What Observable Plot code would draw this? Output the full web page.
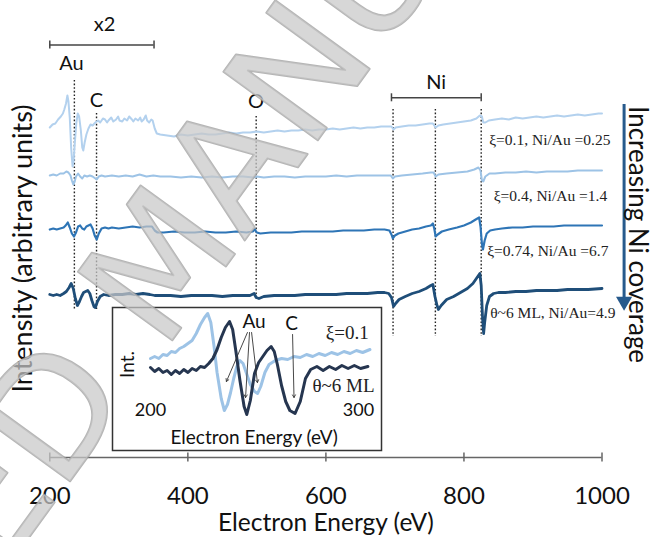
<!DOCTYPE html>
<html><head><meta charset="utf-8">
<script src="https://cdn.jsdelivr.net/npm/d3@7"></script>
<script src="https://cdn.jsdelivr.net/npm/@observablehq/plot@0.6"></script>
<style>
body{margin:0;background:#fff;}
#wrap{position:relative;width:655px;height:537px;overflow:hidden;background:#fff;}
#wrap > svg{position:absolute;}
</style>
</head><body><div id="wrap"></div>
<script>
// ---- Data (energy eV, intensity arbitrary units) ----
const xTicks = [200, 400, 600, 800, 1000];
const seriesNames = ["ξ=0.1, Ni/Au =0.25", "ξ=0.4, Ni/Au =1.4", "ξ=0.74, Ni/Au =6.7", "θ~6 ML, Ni/Au=4.9"];
const seriesColors = ["#b3d1ee", "#9dc3e6", "#2e75b6", "#1f4e79"];
const seriesWidths = [2, 2, 2.2, 2.8];
const seriesLabelE = [836.6, 843, 833.6, 838];
const seriesLabelU = [317, 261.6, 206, 144.5];

const spec1 = [[200,330],[204,333],[208,334],[212,338],[216,341],[219,344],[221,348],[223.5,354],[225.5,362],[227,356],[229,339],[231,309],[233,291],[234.5,297],[236.5,317],[238.5,335],[240.5,344],[242.5,341],[245,327],[247,310],[248.5,307],[250.5,315],[253,323],[256,329],[259,333],[262,332],[266,335],[270,337],[273,335],[277,339],[280,338],[283,335],[285,337],[289,340],[292,336],[296,338],[299,341],[301,337],[305,336],[308,339],[312,337],[315,341],[319,338],[321,336],[324,339],[328,337],[331,340],[333,336],[336,338],[339,342],[341,337],[344,335],[347,338],[349,337],[352,329],[355,324],[360,323],[370,322],[380,321],[390,323],[400,322],[410,323],[420,324],[430,323],[440,323],[450,324],[460,325],[470,324],[480,325],[490,325],[500,326],[510,325],[520,326],[530,327],[540,326],[550,327],[560,327],[570,328],[580,327],[590,328],[600,328],[610,329],[620,328],[630,329],[640,330],[650,329],[660,330],[670,330],[680,331],[690,331],[695,331],[698,328],[701,330],[710,331],[720,332],[730,332],[740,333],[750,334],[755,334],[759,330],[763,332],[770,333],[780,334],[790,335],[800,336],[810,337],[818,339],[823,342],[826,341],[828,335],[831,335],[836,337],[845,338],[855,339],[865,338],[875,340],[885,339],[895,340],[905,341],[915,340],[925,341],[935,342],[945,341],[955,342],[965,343],[975,342],[985,343],[995,344],[1000,344]];
const spec2 = [[200,282],[205,283],[210,282],[215,284],[220,284],[224,286],[227,285],[230,282],[232,277],[234,273],[236,276],[238,281],[241,284],[244,281],[247,279],[250,282],[254,281],[258,282],[262,281],[266,279],[268,278],[271,281],[275,282],[280,281],[290,282],[300,281],[310,282],[320,281],[330,283],[340,281],[350,282],[360,281],[375,281],[390,280],[405,281],[420,280],[435,281],[450,280],[465,281],[480,281],[495,280],[500,281],[510,280],[525,281],[540,281],[555,280],[570,281],[585,281],[600,281],[615,282],[630,281],[645,282],[660,282],[675,282],[690,282],[694,282],[697,279],[700,281],[710,282],[725,283],[740,284],[752,285],[756,285],[759,281],[763,283],[775,284],[790,285],[805,286],[815,288],[821,290],[824,287],[826,277],[828,276],[831,281],[837,284],[845,284],[860,285],[875,285],[890,286],[905,285],[920,286],[935,286],[950,286],[965,287],[980,287],[1000,287]];
const spec3 = [[200,228],[205,229],[210,228],[215,229],[220,230],[223,232],[226,235],[229,230],[232,224],[235,221],[238,225],[241,231],[244,232],[247,229],[250,228],[253,231],[256,232],[259,233],[262,229],[265,222],[268,218],[271,224],[275,229],[280,230],[285,229],[290,230],[300,229],[310,230],[320,231],[330,230],[340,231],[348,231],[352,227],[356,225],[365,225],[380,226],[395,225],[410,225],[425,226],[440,225],[455,225],[470,226],[485,225],[494,226],[497,228],[500,225],[505,224],[520,225],[535,225],[550,225],[565,226],[580,226],[595,226],[610,226],[625,227],[640,227],[655,227],[670,228],[685,228],[692,227],[695,223],[697,219],[700,222],[705,224],[715,226],[725,228],[735,229],[745,231],[752,232],[755,234],[757,229],[759,221],[762,223],[768,226],[778,228],[790,230],[800,232],[810,235],[817,238],[822,240],[824,231],[826,214],[827.5,208],[830,217],[833,224],[838,227],[845,228],[855,229],[870,230],[885,230],[900,231],[915,231],[930,231],[945,232],[960,232],[975,232],[990,232],[1000,232]];
const spec4 = [[200,163],[205,162],[210,163],[215,162],[220,164],[224,166],[228,170],[231,174],[234,169],[237,159],[240,152],[243,156],[246,161],[249,165],[252,166],[255,167],[258,164],[261,157],[264,151],[266,150],[269,156],[273,161],[278,163],[285,162],[295,163],[305,163],[315,164],[325,163],[335,164],[345,163],[352,162],[360,162],[375,162],[390,161],[405,162],[420,162],[435,162],[450,161],[465,162],[480,162],[490,162],[496,164],[499,160],[503,159],[510,161],[525,162],[540,162],[555,162],[570,163],[585,163],[600,163],[615,163],[630,164],[645,164],[660,164],[675,165],[685,165],[691,164],[695,160],[698,151],[701,154],[706,158],[715,161],[725,164],[735,166],[745,169],[752,172],[755,173],[758,161],[761,152],[763,148],[767,152],[775,158],[785,161],[795,165],[805,169],[813,174],[819,180],[823,184],[825,172],[827,139],[828.5,124],[830,135],[833,152],[837,161],[843,164],[850,165],[860,165],[875,166],[890,166],[905,167],[920,167],[935,167],[950,168],[965,168],[980,168],[1000,169]];
const spectra = [spec1, spec2, spec3, spec4];

// Auger peak marker lines (energy, top, bottom in intensity units)
const peakE = [235.6, 267.7, 499, 697.3, 758.6, 825];
const peakTop = [377, 344, 341, 348, 348, 348];
const peakBottom = [148, 148, 160, 121, 121, 121];

// Element labels
const elemText = ["x2", "Au", "C", "O", "Ni"];
const elemE = [279.4, 231.4, 267.7, 498.9, 759.8];
const elemU = [433, 394, 357, 356, 375];

// Range brackets (x2 region, Ni region)
const bracketE1 = [200, 695];
const bracketE2 = [351, 825];
const bracketU = [412.6, 359.7];

// Inset: Au/C region, ξ=0.1 vs θ~6 ML
const insetLight = [[200,92],[202,94],[204,92],[206,96],[208,95],[210,99],[212,98],[214,102],[216,104],[218,107],[220,110],[222,117],[224,126],[226,133],[227.5,137],[229,128],[230.5,105],[232,78],[234,52],[235.5,40],[237,46],[238.5,58],[240,72],[241.5,84],[243,90],[244.5,87],[246,78],[248,66],[250,59],[251.5,57],[253,64],[255,78],[257,86],[260,90],[263,92],[266,91],[269,94],[272,93],[275,96],[278,94],[281,97],[284,95],[287,98],[290,96],[293,99],[296,97],[299,100],[302,98],[305.5,101]];
const insetDark = [[200,83],[202,79],[204,82],[206,78],[208,80],[210,76],[212,80],[214,77],[216,81],[218,78],[220,82],[222,80],[224,84],[226,83],[228,87],[230,92],[232,101],[234,113],[236,123],[238,129],[239.5,121],[241,100],[243,70],[245,44],[246.3,36],[248,50],[250,77],[252,88],[254,94],[256,100],[258,104],[259.5,99],[261,86],[263,65],[265,49],[267,40],[269.5,37],[272,49],[274.5,72],[277,81],[280,84],[283,80],[286,84],[289,81],[292,85],[295,82],[298,85],[301,82],[304.5,84]];
const insetArrowE1 = [246.6, 247.6, 248.6, 268.3];
const insetArrowV1 = [118, 118, 118, 116];
const insetArrowE2 = [236.5, 245.7, 251.4, 269];
const insetArrowV2 = [69, 53, 68, 53];
const insetTicks = [200, 300];

// ---- Main plot ----
const serif = "'Liberation Serif', 'DejaVu Serif', serif";
const sans = "Lato, 'Open Sans', sans-serif";
const marks = [];
marks.push(Plot.ruleX(peakE.map((e, i) => ({e, t: peakTop[i], b: peakBottom[i]})), {x: "e", y1: "t", y2: "b", stroke: "#222", strokeWidth: 1.4, strokeDasharray: "1.6,2"}));
spectra.forEach((s, i) => {
  marks.push(Plot.line(s, {x: d => d[0], y: d => d[1], stroke: seriesColors[i], strokeWidth: seriesWidths[i], strokeLinejoin: "round"}));
});
const brackets = bracketE1.map((e, i) => ({e1: e, e2: bracketE2[i], u: bracketU[i]}));
marks.push(Plot.ruleY(brackets, {y: "u", x1: "e1", x2: "e2", stroke: "#444", strokeWidth: 1.5}));
const caps = brackets.flatMap(b => [{e: b.e1, u: b.u}, {e: b.e2, u: b.u}]);
marks.push(Plot.ruleX(caps, {x: "e", y1: d => d.u - 4, y2: d => d.u + 4, stroke: "#444", strokeWidth: 1.5}));
marks.push(Plot.text(elemText.map((t, i) => ({t, e: elemE[i], u: elemU[i]})), {x: "e", y: "u", text: "t", fontSize: 20, fontFamily: sans, fill: "#111"}));
marks.push(Plot.text(seriesNames.map((t, i) => ({t, e: seriesLabelE[i], u: seriesLabelU[i]})), {x: "e", y: "u", text: "t", textAnchor: "start", fontSize: 15.5, fontFamily: serif, fill: "#222"}));
// x axis
marks.push(Plot.ruleY([0], {x1: 200, x2: 1000, stroke: "#666", strokeWidth: 1.5}));
marks.push(Plot.ruleX(xTicks, {x: d => d, y1: -4.5, y2: 4.5, stroke: "#666", strokeWidth: 1.5}));
marks.push(Plot.text(xTicks, {x: d => d, y: -39, text: d => String(d), fontSize: 24, fontFamily: sans, fill: "#111"}));
marks.push(Plot.text(["Electron Energy (eV)"], {x: 600, y: -66, fontSize: 24.5, fontFamily: sans, fill: "#111"}));
marks.push(Plot.text(["Intensity (arbitrary units)"], {x: 162, y: 209, rotate: -90, fontSize: 27, fontFamily: sans, fill: "#111"}));
// coverage arrow
marks.push(Plot.ruleX([1032], {y1: 353, y2: 160, stroke: "#275a8c", strokeWidth: 3}));
marks.push(Plot.dot([1032], {x: d => d, y: 156, symbol: "triangle", rotate: 180, r: 6, fill: "#275a8c", stroke: "none"}));
marks.push(Plot.text(["Increasing Ni coverage"], {x: 1051.5, y: 223, rotate: 90, fontSize: 26, fontFamily: sans, fill: "#111"}));

const main = Plot.plot({
  width: 655, height: 537, margin: 0,
  style: {background: "#fff", overflow: "visible"},
  x: {domain: [200, 1000], range: [49.3, 601.5], axis: null},
  y: {domain: [0, 457], range: [457, 0], axis: null},
  marks
});
main.style.left = "0px"; main.style.top = "0px";

// ---- Inset ----
const inset = Plot.plot({
  width: 269, height: 143, margin: 0,
  style: {background: "#fff", overflow: "visible"},
  x: {domain: [200, 300], range: [38, 246], axis: null},
  y: {domain: [0, 143], range: [143, 0], axis: null},
  marks: [
    Plot.line(insetLight, {x: d => d[0], y: d => d[1], stroke: "#9dc3e6", strokeWidth: 3}),
    Plot.line(insetDark, {x: d => d[0], y: d => d[1], stroke: "#263650", strokeWidth: 3}),
    Plot.arrow(insetArrowE1.map((e, i) => ({x1: e, y1: insetArrowV1[i], x2: insetArrowE2[i], y2: insetArrowV2[i]})), {x1: "x1", y1: "y1", x2: "x2", y2: "y2", stroke: "#333", strokeWidth: 0.9, headLength: 5}),
    Plot.text(["Au", "C"], {x: [249.8, 267.8], y: [129, 127], text: d => d, fontSize: 19, fontFamily: sans, fill: "#111"}),
    Plot.text(["ξ=0.1", "θ~6 ML"], {x: [294.6, 292.8], y: [118, 65], text: d => d, fontSize: 19, fontFamily: serif, fill: "#222"}),
    Plot.text(insetTicks, {x: d => d, y: 40, text: d => String(d), fontSize: 18, fontFamily: sans, fill: "#111"}),
    Plot.text(["Electron Energy (eV)"], {x: 249.8, y: 13, fontSize: 19, fontFamily: sans, fill: "#111"}),
    Plot.text(["Int."], {frameAnchor: "left", dx: 15.4, dy: -14.5, rotate: -90, fontSize: 19, fontFamily: sans, fill: "#111", textAnchor: "middle"}),
    Plot.frame({stroke: "#333", strokeWidth: 1.5})
  ]
});
inset.style.left = "112px"; inset.style.top = "307px";

// ---- Watermark ----
const wm = Plot.plot({
  width: 655, height: 537, margin: 0,
  style: {background: "transparent", overflow: "visible"},
  marks: [
    Plot.text(["ACCEPTED MANUSCRIPT"], {frameAnchor: "top-left", dx: 165, dy: 262, rotate: -54, textAnchor: "middle", lineAnchor: "middle", fontSize: 160, fontWeight: "normal", fontFamily: "'DejaVu Sans', sans-serif", fill: "#c8c8c8", fillOpacity: 0.72, stroke: "#a2a2a2", strokeWidth: 2, strokeOpacity: 0.8})
  ]
});
wm.style.left = "0px"; wm.style.top = "0px"; wm.style.pointerEvents = "none";

const wrap = document.getElementById("wrap");
wrap.appendChild(main);
wrap.appendChild(inset);
wrap.appendChild(wm);
</script>
</body></html>
